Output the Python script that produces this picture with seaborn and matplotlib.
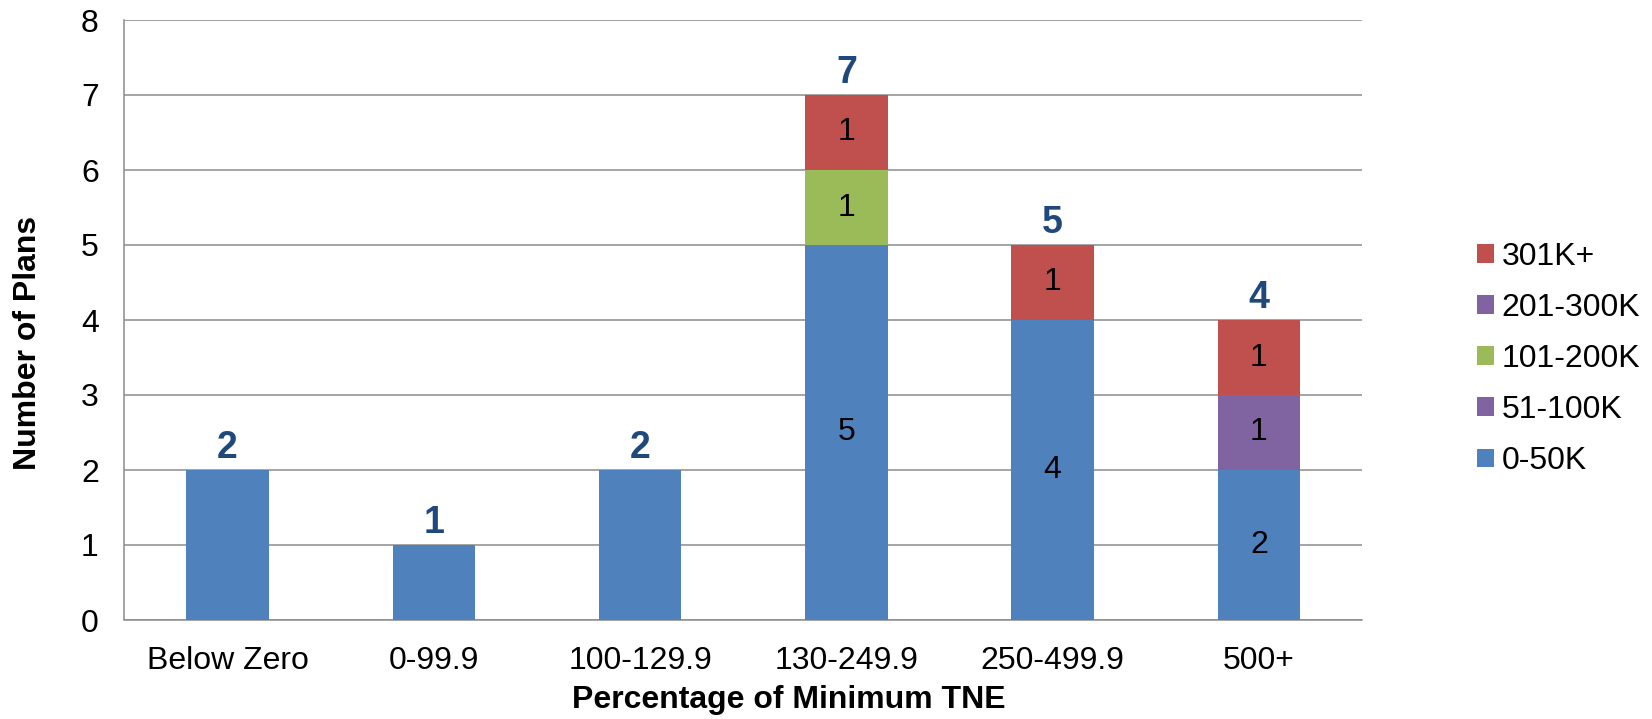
import numpy as np
import matplotlib
matplotlib.use("Agg")
import matplotlib.pyplot as plt
from matplotlib.patches import Patch
import seaborn as sns

# ---- data ----
categories = ["Below Zero", "0-99.9", "100-129.9", "130-249.9", "250-499.9", "500+"]
s_0_50K = [2, 1, 2, 5, 4, 2]
s_51_100K = [0, 0, 0, 0, 0, 1]
s_101_200K = [0, 0, 0, 1, 0, 0]
s_201_300K = [0, 0, 0, 0, 0, 0]
s_301K = [0, 0, 0, 1, 1, 1]
series_names = ["0-50K", "51-100K", "101-200K", "201-300K", "301K+"]
series_vals = [s_0_50K, s_51_100K, s_101_200K, s_201_300K, s_301K]
series_colors = ["#4F81BD", "#8064A2", "#9BBB59", "#8064A2", "#C0504D"]
y_ticks = [0, 1, 2, 3, 4, 5, 6, 7, 8]

sns.set_style("white")
plt.rcParams["font.family"] = ["Liberation Sans", "DejaVu Sans"]
plt.rcParams["text.color"] = "black"
plt.rcParams["axes.labelcolor"] = "black"

W, H = 1652, 719
fig = plt.figure(figsize=(W / 100, H / 100), dpi=100)
ax = fig.add_axes([124.5 / W, 1 - 620 / H, (1362 - 124.5) / W, 600 / H])

vals = np.array(series_vals, dtype=float)
cum = np.cumsum(vals, axis=0)
totals = cum[-1]

# draw cumulative bars from top series down so that each visible part is one segment
for i in range(len(series_names) - 1, -1, -1):
    sns.barplot(x=categories, y=cum[i], color=series_colors[i], width=0.4,
                saturation=1, linewidth=0, ax=ax, zorder=3)

ax.set_xlim(-0.5, len(categories) - 0.5)
ax.set_ylim(0, 8)
ax.set_yticks(y_ticks)
ax.yaxis.grid(True, color="#8C8C8C", linewidth=1.1, zorder=0)
ax.set_axisbelow(True)

for s in ["top", "right"]:
    ax.spines[s].set_visible(False)
for s in ["left", "bottom"]:
    ax.spines[s].set_color("#8C8C8C")
    ax.spines[s].set_linewidth(1.1)

ax.tick_params(axis="y", length=6.5, width=1.1, color="#8C8C8C", labelcolor="black",
               labelsize=23, pad=12)
ax.tick_params(axis="x", which="major", length=0, labelsize=23, labelcolor="black", pad=19)
ax.set_xticks(np.arange(-0.5, len(categories), 1.0), minor=True)
ax.tick_params(axis="x", which="minor", length=7.2, width=1.1, color="#8C8C8C")

# segment labels (only for stacked categories)
for j in range(len(categories)):
    nz = vals[:, j] > 0
    if nz.sum() > 1:
        for i in range(len(series_names)):
            if vals[i, j] > 0:
                ax.text(j, cum[i, j] - vals[i, j] / 2, f"{int(vals[i, j])}",
                        ha="center", va="center", fontsize=23, color="black", zorder=5)
    ax.annotate(f"{int(totals[j])}", xy=(j, totals[j]), xytext=(0, 8.5),
                textcoords="offset points", ha="center", va="baseline",
                fontsize=27, fontweight="bold", color="#1F497D", zorder=5)

ax.set_xlabel("Percentage of Minimum TNE", fontsize=23, fontweight="bold", color="black")
ax.set_ylabel("Number of Plans", fontsize=23, fontweight="bold", color="black")
ax.xaxis.set_label_coords(0.537, -0.108)
ax.yaxis.set_label_coords(-0.066, 0.462)

handles = [Patch(facecolor=series_colors[i], edgecolor="none", label=series_names[i])
           for i in range(len(series_names) - 1, -1, -1)]
leg = fig.legend(handles=handles, loc="center left", bbox_to_anchor=(1477 / W, 1 - 359 / H),
                 frameon=False, fontsize=23, handlelength=0.52, handleheight=0.52,
                 handletextpad=0.25, labelspacing=0.66, borderpad=0, borderaxespad=0)
for t in leg.get_texts():
    t.set_color("black")

fig.savefig("out.png", dpi=100, facecolor="white")
